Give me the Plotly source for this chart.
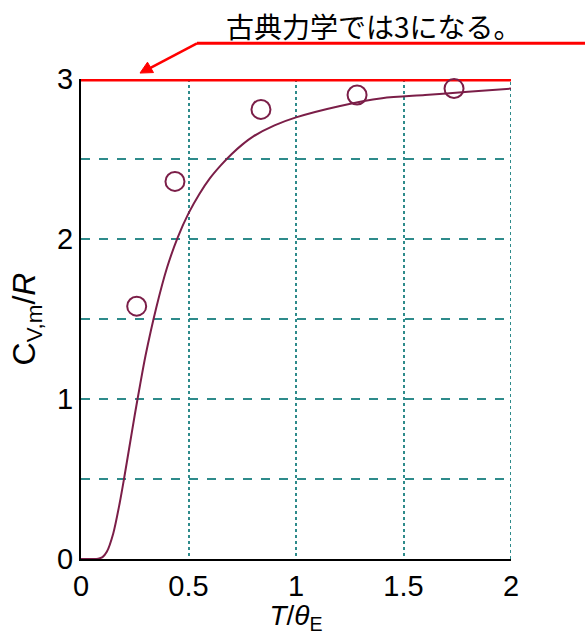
import plotly.graph_objects as go

# Theoretical curve (Einstein model)
curve_t = [0.0, 0.05, 0.08, 0.10, 0.12, 0.15, 0.18, 0.20, 0.225, 0.25, 0.275, 0.30,
           0.35, 0.40, 0.45, 0.50, 0.55, 0.60, 0.65, 0.70, 0.75, 0.80, 0.90, 1.00,
           1.20, 1.40, 1.60, 1.80, 2.00]
curve_c = [0.0, 0.0, 0.002, 0.012, 0.045, 0.16, 0.35, 0.50, 0.70, 0.90, 1.09, 1.27,
           1.57, 1.82, 2.01, 2.16, 2.28, 2.38, 2.46, 2.53, 2.59, 2.64, 2.71, 2.76,
           2.83, 2.88, 2.90, 2.92, 2.94]

# Measured points
meas_t = [0.259, 0.437, 0.837, 1.284, 1.735]
meas_c = [1.58, 2.36, 2.81, 2.90, 2.94]

# Classical limit
classical_t = [0.0, 2.02]
classical_c = [3, 3]

x_ticks = [0, 0.5, 1, 1.5, 2]
x_labels = ["0", "0.5", "1", "1.5", "2"]
y_ticks = [0, 1, 2, 3]
y_labels = ["0", "1", "2", "3"]

annot_text = "古典力学では3になる。"

MAROON = "#7b1e48"
TEAL = "#2e8b8b"
RED = "#ff0000"
W, H = 585, 635
L, R, T, B = 81, 74, 79, 71
pw, ph = W - L - R, H - T - B


def px_x(p):
    return (p - L) / pw


def px_y(p):
    return (H - B - p) / ph


fig = go.Figure()
fig.add_trace(go.Scatter(x=curve_t, y=curve_c, mode="lines",
                         line=dict(color=MAROON, width=2, shape="spline", smoothing=0.8),
                         cliponaxis=False, hoverinfo="skip", showlegend=False))
fig.add_trace(go.Scatter(x=classical_t, y=classical_c, mode="lines",
                         line=dict(color=RED, width=5), cliponaxis=False,
                         showlegend=False))
fig.add_trace(go.Scatter(x=meas_t, y=meas_c, mode="markers",
                         marker=dict(symbol="circle-open", size=19,
                                     line=dict(color=MAROON, width=2), color=MAROON),
                         cliponaxis=False, showlegend=False))

num_font = dict(family="Liberation Sans, Arial", size=29, color="black")

fig.update_layout(
    width=W, height=H,
    margin=dict(l=L, r=R, t=T, b=B),
    paper_bgcolor="white", plot_bgcolor="white",
    xaxis=dict(range=[0, 2], tickvals=x_ticks, ticktext=x_labels,
               showgrid=True, gridcolor=TEAL, gridwidth=2, griddash="dot",
               showline=True, linecolor="black", linewidth=2,
               zeroline=False, ticks="", tickfont=num_font,
               title=dict(text="<i>T</i>/<i>θ</i><sub>E</sub>",
                          font=dict(family="Liberation Sans, Arial", size=28, color="black"),
                          standoff=2)),
    yaxis=dict(range=[0, 3], tickvals=y_ticks, ticktext=y_labels,
               showgrid=True, gridcolor=TEAL, gridwidth=1.5, griddash="dash",
               minor=dict(dtick=0.5, tick0=0, showgrid=True, gridcolor=TEAL,
                          gridwidth=1.5, griddash="dash", ticks=""),
               showline=True, linecolor="black", linewidth=2,
               zeroline=False, ticks="", tickfont=num_font,
               title=dict(text="C<sub>V,m</sub>/<i>R</i>",
                          font=dict(family="Liberation Sans, Arial", size=32, color="black"),
                          standoff=12)),
)

# grid line at the right range end
fig.add_shape(type="line", xref="x", yref="paper", x0=2, x1=2, y0=0, y1=1,
              line=dict(color=TEAL, width=2, dash="dot"), layer="below")

# underline of the note
fig.add_shape(type="line", xref="paper", yref="paper",
              x0=px_x(197), x1=px_x(585), y0=px_y(43), y1=px_y(43),
              line=dict(color=RED, width=3))

# arrow shaft
fig.add_shape(type="line", xref="paper", yref="paper",
              x0=px_x(197), y0=px_y(43), x1=px_x(150), y1=px_y(68),
              line=dict(color=RED, width=2.5))
# arrow head
tip = (140, 73)
c1 = (153.5, 72.5)
c2 = (147.5, 62.0)
path = "M {:.5f},{:.5f} L {:.5f},{:.5f} L {:.5f},{:.5f} Z".format(
    px_x(tip[0]), px_y(tip[1]), px_x(c1[0]), px_y(c1[1]), px_x(c2[0]), px_y(c2[1]))
fig.add_shape(type="path", xref="paper", yref="paper", path=path,
              fillcolor=RED, line=dict(color=RED, width=1))

fig.add_annotation(xref="paper", yref="paper", x=px_x(374), y=px_y(25),
                   text=annot_text, showarrow=False, xanchor="center", yanchor="middle",
                   font=dict(family="Noto Sans CJK JP", size=28, color="black"))

fig.write_html("out.html")
